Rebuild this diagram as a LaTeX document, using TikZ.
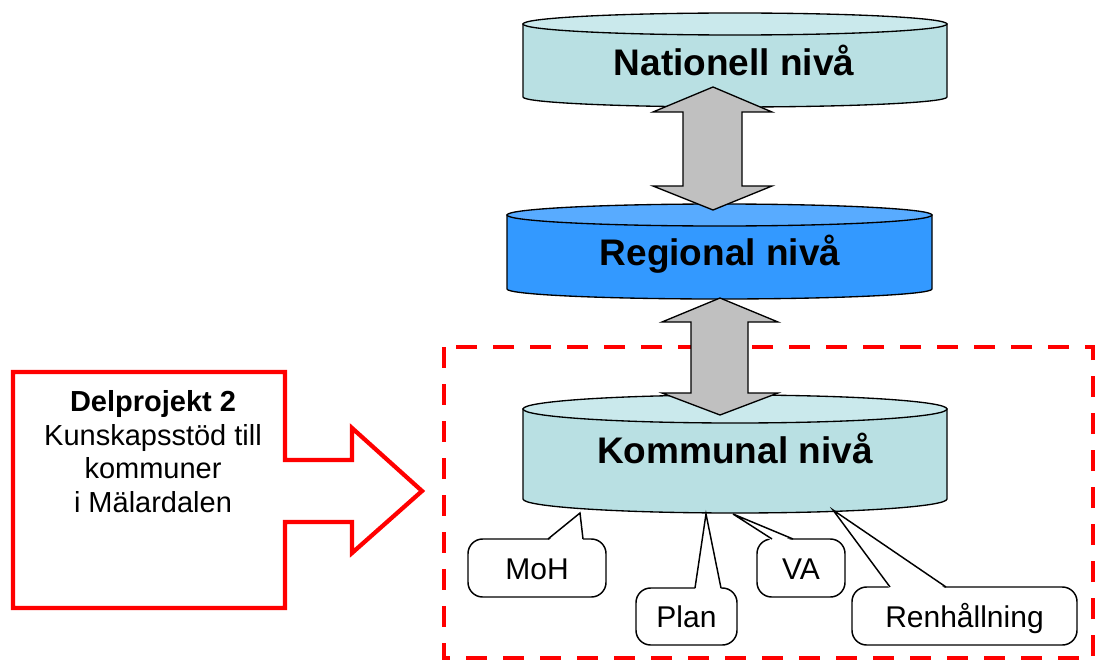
\documentclass[tikz,border=0pt]{standalone}
\usepackage{fontspec}
\setmainfont{Liberation Sans}
\definecolor{nivaljus}{RGB}{185,224,227}
\definecolor{nivatopp}{RGB}{202,233,236}
\definecolor{regionblå}{RGB}{51,153,255}
\definecolor{regiontopp}{RGB}{88,171,255}
\definecolor{pilgrå}{RGB}{192,192,192}
\begin{document}
\begin{tikzpicture}[x=0.75pt,y=-0.75pt,line join=miter,
  cylkant/.style={draw=black,line width=1pt},
  grapil/.style={draw=black,fill=pilgrå,line width=1pt},
  nivatext/.style={anchor=base,inner sep=0pt,font=\bfseries\fontsize{27.75}{32}\selectfont},
  bubbla/.style={draw=black,fill=white,line width=1.1pt,rounded corners=11pt,inner sep=0pt,
    text height=16.5pt,text depth=0pt,font=\fontsize{22.5}{27}\selectfont},
  bubbelkant/.style={draw=black,line width=1.1pt}]
  \useasboundingbox (0,0) rectangle (1096,660);
  % streckad ram runt kommunerna
  \draw[red,line width=3.4pt,dash pattern=on 15.75pt off 12pt] (444,347) rectangle (1093,658);
  % röd pil med delprojektet
  \draw[red,line width=3.2pt,fill=white] (13,372) -- (285,372) -- (285,460) -- (352,460)
    -- (352,428) -- (422,491) -- (352,553) -- (352,522) -- (285,522) -- (285,608)
    -- (13,608) -- cycle;
  \node[anchor=north,inner sep=0pt,align=center,font=\fontsize{21.75}{25.3}\selectfont]
    (delprojekt) at (153,390) {\textbf{Delprojekt 2}\\Kunskapsstöd till\\kommuner\\i Mälardalen};
  % Nationell nivå
  \draw[cylkant,fill=nivaljus] (523,24) -- (523,97) arc (180:0:212 and 10) -- (947,24) -- cycle;
  \draw[cylkant,fill=nivatopp] (735,24) ellipse (212 and 11);
  \node[nivatext] (nationell) at (734,75) {Nationell nivå};
  % Regional nivå
  \draw[cylkant,fill=regionblå] (507,215) -- (507,289) arc (180:0:212.5 and 10) -- (932,215) -- cycle;
  \draw[cylkant,fill=regiontopp] (719.5,215) ellipse (212.5 and 11);
  \node[nivatext] (regional) at (720,265) {Regional nivå};
  % Kommunal nivå
  \draw[cylkant,fill=nivaljus] (523,409) -- (523,499) arc (180:0:212 and 14) -- (947,409) -- cycle;
  \draw[cylkant,fill=nivatopp] (735,409) ellipse (212 and 14);
  \node[nivatext] (kommunal) at (735,463) {Kommunal nivå};
  % dubbelpilar mellan nivåerna
  \draw[grapil] (713,87) -- (772,112) -- (742,112) -- (742,186) -- (772,186) -- (713,210)
    -- (653,186) -- (683,186) -- (683,112) -- (653,112) -- cycle;
  \draw[grapil] (720,298) -- (778,322) -- (748,322) -- (748,393) -- (778,393) -- (720,415)
    -- (662,393) -- (691,393) -- (691,322) -- (662,322) -- cycle;
  % pratbubblor
  \coordinate (mohspets) at (580,513);
  \coordinate (planspets) at (706,514);
  \coordinate (vaspets) at (733,514);
  \coordinate (renhspets) at (833,510);
  \node[bubbla,minimum width=103.5pt,minimum height=43.5pt] (moh) at (537,568) {MoH};
  \fill[white] (548,541) -- (mohspets) -- (583,541) -- cycle;
  \draw[bubbelkant] (548,539) -- (mohspets) -- (583,539);
  \node[bubbla,minimum width=75.75pt,minimum height=42.75pt] (plan) at (686.5,616.5) {Plan};
  \fill[white] (695,590) -- (planspets) -- (721,590) -- cycle;
  \draw[bubbelkant] (695,588) -- (planspets) -- (721,588);
  \node[bubbla,minimum width=66pt,minimum height=43.5pt] (va) at (801,568) {VA};
  \fill[white] (772,541) -- (vaspets) -- (793,541) -- cycle;
  \draw[bubbelkant] (772,539) -- (vaspets) -- (793,539);
  \node[bubbla,minimum width=168.75pt,minimum height=43.5pt] (renh) at (964.5,616) {Renhållning};
  \fill[white] (890,589) -- (renhspets) -- (946,589) -- cycle;
  \draw[bubbelkant] (890,587) -- (renhspets) -- (946,587);
\end{tikzpicture}
\end{document}
